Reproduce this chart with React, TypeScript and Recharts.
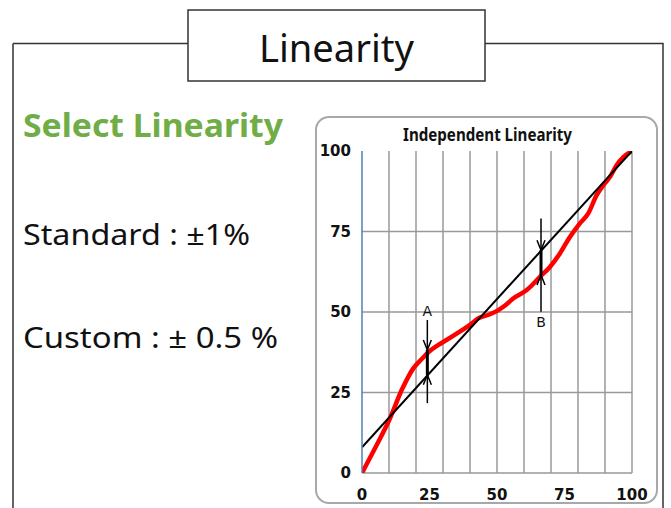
import React from "react";
import {
  ComposedChart,
  Line,
  Scatter,
  XAxis,
  YAxis,
  ReferenceLine,
} from "recharts";

// ---- data ----
const redX = [0, 5, 10, 15, 19, 22.6, 25, 28, 31.3, 36.2, 40, 43, 47.4, 50.5, 53, 56, 61, 65.9, 69.6, 73.3, 77, 80.7, 83.8, 86.9, 89.4, 91.8, 94.3, 96.8, 100];
const redY = [0, 8, 16.3, 26.3, 32.5, 35.8, 37.8, 39.6, 41.3, 43.9, 46, 48, 49.3, 50.6, 52, 54.2, 56.8, 60.9, 64, 68.2, 73.3, 77.5, 80.6, 86.3, 89.4, 91.9, 95.6, 98.1, 100];
const fitX = [0, 100];
const fitY = [8, 100];

const xTicks = [0, 25, 50, 75, 100];
const yTicks = [0, 25, 50, 75, 100];
const xGrid = [10, 20, 30, 40, 50, 60, 70, 80, 90, 100];
const yGrid = [0, 25, 50, 75];

const arrowNames = ["A", "B"];
const arrowX = [24.2, 66.3];
const shaftLow = [21.7, 50.1];
const shaftHigh = [47.5, 79.0];
const tipDown = [38.2, 69.2];
const tipUp = [30.5, 61.5];
const labelY = [50.3, 47.0];

const redData = redX.map((x, i) => ({ x, y: redY[i] }));
const fitData = fitX.map((x, i) => ({ x, y: fitY[i] }));
const headData = arrowX.flatMap((x, i) => [
  { x, y: tipDown[i], dir: "down" },
  { x, y: tipUp[i], dir: "up" },
]);
const labelData = arrowX.map((x, i) => ({ x, y: labelY[i], name: arrowNames[i] }));

const ArrowHead = (props: any) => {
  const { cx, cy, payload } = props;
  if (cx == null || cy == null) return null;
  const d =
    payload.dir === "down"
      ? `M${cx - 4},${cy - 10} L${cx},${cy} L${cx + 4},${cy - 10}`
      : `M${cx - 4},${cy + 10} L${cx},${cy} L${cx + 4},${cy + 10}`;
  return <path d={d} stroke="#000" strokeWidth={1.5} fill="none" />;
};

const ArrowLabel = (props: any) => {
  const { cx, cy, payload } = props;
  if (cx == null || cy == null) return null;
  return (
    <text
      x={cx}
      y={cy}
      textAnchor="middle"
      dominantBaseline="central"
      fontFamily="'DejaVu Sans', sans-serif"
      fontSize={14}
      fill="#111"
    >
      {payload.name}
    </text>
  );
};

const tickStyle = {
  fontFamily: "'DejaVu Sans', sans-serif",
  fontSize: 15,
  fontWeight: 700,
  fill: "#111",
};

export default function App() {
  return (
    <div style={{ position: "absolute", left: 0, top: 0, width: 671, height: 508, background: "#fff", overflow: "hidden" }}>
      <svg width={671} height={508} style={{ position: "absolute", left: 0, top: 0 }}>
        <path d="M13,43.5 H188 M485,43.5 H663 V508 M13,43.5 V508" stroke="#333" strokeWidth={1.5} fill="none" />
        <rect x={188} y={10} width={297} height={71} stroke="#333" strokeWidth={1.5} fill="#fff" />
        <text x={259} y={62} fontFamily="'Noto Sans', sans-serif" fontSize={38} fill="#111" textLength={155} lengthAdjust="spacingAndGlyphs">
          Linearity
        </text>
        <text x={23} y={137} fontFamily="'Noto Sans', sans-serif" fontWeight={700} fontSize={33} fill="#70ad47" textLength={260} lengthAdjust="spacingAndGlyphs">
          Select Linearity
        </text>
        <text x={23} y={245} fontFamily="'Noto Sans', sans-serif" fontSize={29} fill="#111" textLength={227} lengthAdjust="spacingAndGlyphs">
          Standard : ±1%
        </text>
        <text x={23} y={348} fontFamily="'Noto Sans', sans-serif" fontSize={29} fill="#111" textLength={255} lengthAdjust="spacingAndGlyphs">
          Custom : ± 0.5 %
        </text>
        <rect x={316} y={117} width={341} height={386} rx={13} ry={13} stroke="#a8a8a8" strokeWidth={2} fill="#fff" />
        <text x={403} y={141} fontFamily="'Noto Sans', sans-serif" fontWeight={700} fontSize={17} fill="#111" textLength={169} lengthAdjust="spacingAndGlyphs">
          Independent Linearity
        </text>
      </svg>
      <div style={{ position: "absolute", left: 0, top: 0 }}>
        <ComposedChart width={671} height={508} data={redData} margin={{ top: 151, right: 39, bottom: 0, left: 0 }}>
          <XAxis
            type="number"
            dataKey="x"
            domain={[0, 100]}
            ticks={xTicks}
            axisLine={false}
            tickLine={false}
            tickSize={0}
            tickMargin={16}
            height={35}
            tick={tickStyle}
            interval={0}
            allowDataOverflow
          />
          <YAxis
            type="number"
            domain={[0, 100]}
            ticks={yTicks}
            axisLine={{ stroke: "#4f81bd", strokeWidth: 1.5 }}
            tickLine={false}
            tickSize={0}
            tickMargin={11}
            width={362}
            tick={tickStyle}
            interval={0}
            allowDataOverflow
          />
          {yGrid.map((v) => (
            <ReferenceLine key={"h" + v} y={v} stroke="#999" strokeWidth={1.5} />
          ))}
          {xGrid.map((v) => (
            <ReferenceLine key={"v" + v} x={v} stroke="#999" strokeWidth={1.5} />
          ))}
          <Line
            data={redData}
            dataKey="y"
            type="monotone"
            stroke="#ff0000"
            strokeWidth={4.5}
            strokeLinejoin="round"
            strokeLinecap="round"
            dot={false}
            isAnimationActive={false}
          />
          <Line
            data={fitData}
            dataKey="y"
            type="linear"
            stroke="#000"
            strokeWidth={2}
            dot={false}
            isAnimationActive={false}
          />
          {arrowX.map((x, i) => (
            <ReferenceLine
              key={"s" + i}
              segment={[{ x, y: shaftLow[i] }, { x, y: shaftHigh[i] }]}
              stroke="#000"
              strokeWidth={1.5}
            />
          ))}
          {arrowX.map((x, i) => (
            <ReferenceLine
              key={"t" + i}
              segment={[{ x, y: tipUp[i] }, { x, y: tipDown[i] }]}
              stroke="#000"
              strokeWidth={3}
            />
          ))}
          <Scatter data={headData} dataKey="y" shape={ArrowHead} isAnimationActive={false} />
          <Scatter data={labelData} dataKey="y" shape={ArrowLabel} isAnimationActive={false} />
        </ComposedChart>
      </div>
    </div>
  );
}
